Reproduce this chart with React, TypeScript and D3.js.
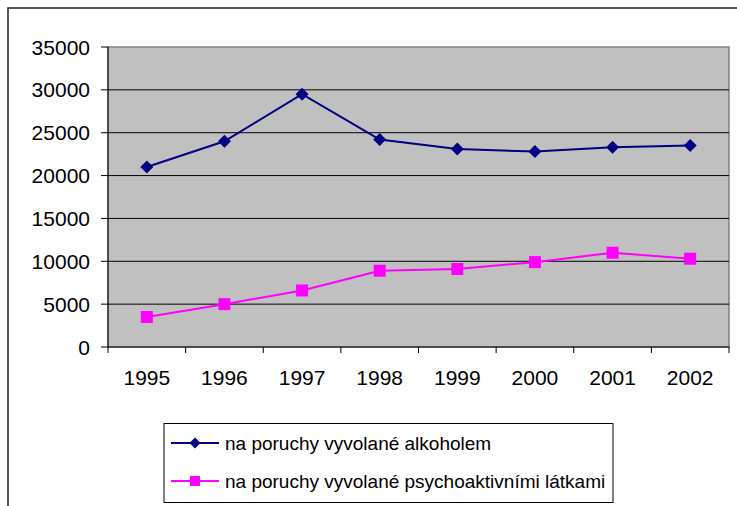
import React from "react";
import * as d3 from "d3";

const years = ["1995", "1996", "1997", "1998", "1999", "2000", "2001", "2002"];
const alcohol = [21000, 24000, 29500, 24200, 23100, 22800, 23300, 23500];
const psycho = [3500, 5000, 6600, 8900, 9100, 9900, 11000, 10300];
const yTicks = [0, 5000, 10000, 15000, 20000, 25000, 30000, 35000];
const seriesNames = [
  "na poruchy vyvolané alkoholem",
  "na poruchy vyvolané psychoaktivními látkami",
];

const W = 737;
const H = 506;
const plot = { left: 108, top: 47, right: 729, bottom: 347 };
const FONT = "Liberation Sans, Arial, sans-serif";

export default function App() {
  const x = d3.scaleBand<string>().domain(years).range([plot.left, plot.right]);
  const y = d3.scaleLinear().domain([0, 35000]).range([plot.bottom, plot.top]);
  const cx = (d: string) => (x(d) as number) + x.bandwidth() / 2;
  const line = d3
    .line<number>()
    .x((_, i) => cx(years[i]))
    .y((d) => y(d));

  const diamond = (px: number, py: number, r: number) =>
    `M${px},${py - r}L${px + r},${py}L${px},${py + r}L${px - r},${py}Z`;

  const boundaries = years.map((d) => x(d) as number).concat([plot.right]);

  return (
    <svg
      width={W}
      height={H}
      style={{ position: "absolute", left: 0, top: 0, background: "#fff" }}
      fontFamily={FONT}
    >
      <rect x={8} y={8} width={W + 10} height={H + 10} fill="#fff" stroke="#222" strokeWidth={1.5} />
      <rect
        x={plot.left}
        y={plot.top}
        width={plot.right - plot.left}
        height={plot.bottom - plot.top}
        fill="#C0C0C0"
        stroke="#808080"
        strokeWidth={1.5}
      />
      {yTicks.slice(1, -1).map((t) => (
        <line key={t} x1={plot.left} x2={plot.right} y1={y(t)} y2={y(t)} stroke="#000" strokeWidth={1} />
      ))}
      <line x1={plot.left} x2={plot.left} y1={plot.top} y2={plot.bottom} stroke="#000" strokeWidth={1} />
      <line x1={plot.left} x2={plot.right} y1={plot.bottom} y2={plot.bottom} stroke="#000" strokeWidth={1} />
      {yTicks.map((t) => (
        <g key={t}>
          <line x1={plot.left - 7} x2={plot.left} y1={y(t)} y2={y(t)} stroke="#000" />
          <text x={90} y={y(t)} dy="0.36em" textAnchor="end" fontSize={21} fill="#000">
            {t}
          </text>
        </g>
      ))}
      {boundaries.map((b, i) => (
        <line key={i} x1={b} x2={b} y1={plot.bottom} y2={plot.bottom + 6} stroke="#000" />
      ))}
      {years.map((d) => (
        <text key={d} x={cx(d)} y={385} textAnchor="middle" fontSize={21} fill="#000">
          {d}
        </text>
      ))}
      <path d={line(alcohol) || ""} fill="none" stroke="#000080" strokeWidth={2} />
      {alcohol.map((v, i) => (
        <path key={i} d={diamond(cx(years[i]), y(v), 6.5)} fill="#000080" />
      ))}
      <path d={line(psycho) || ""} fill="none" stroke="#FF00FF" strokeWidth={2} />
      {psycho.map((v, i) => (
        <rect key={i} x={cx(years[i]) - 6} y={y(v) - 6} width={12} height={12} fill="#FF00FF" />
      ))}
      <rect x={164} y={423.5} width={449} height={79} fill="#fff" stroke="#000" strokeWidth={1} />
      <line x1={171} x2={219} y1={443} y2={443} stroke="#000080" strokeWidth={2} />
      <path d={diamond(195, 443, 5.5)} fill="#000080" />
      <text x={225} y={443} dy="0.36em" fontSize={19} fill="#000">
        {seriesNames[0]}
      </text>
      <line x1={171} x2={219} y1={481} y2={481} stroke="#FF00FF" strokeWidth={2} />
      <rect x={190} y={476} width={10} height={10} fill="#FF00FF" />
      <text x={225} y={481} dy="0.36em" fontSize={19} fill="#000">
        {seriesNames[1]}
      </text>
    </svg>
  );
}
